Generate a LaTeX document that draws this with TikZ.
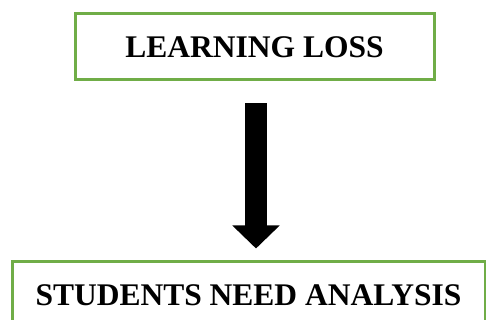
\documentclass[tikz,border=0pt]{standalone}
\usepackage{fontspec}
\setmainfont{Liberation Serif}
\usetikzlibrary{arrows.meta,positioning,calc}
\definecolor{leafgreen}{HTML}{70AD47}

\begin{document}
\begin{tikzpicture}[x=1pt,y=1pt,
  stage/.style={draw=leafgreen,line width=3pt,fill=white,minimum height=66pt,inner sep=0pt,font=\fontsize{31.5}{36}\selectfont\bfseries},
  flow/.style={line width=22pt,-{Triangle[width=46pt,length=23pt]}}]
  \useasboundingbox (0,0) rectangle (486,320);

  \node[stage,minimum width=359pt] (loss) at (254.5,273) {LEARNING LOSS};
  \node[stage,minimum width=473pt] (need) at (248.5,25)  {STUDENTS NEED ANALYSIS};

  \draw[flow,shorten <=22pt,shorten >=12pt] ($(loss.south)+(1.5,0)$) -- ($(need.north)+(7.5,0)$);
\end{tikzpicture}
\end{document}
